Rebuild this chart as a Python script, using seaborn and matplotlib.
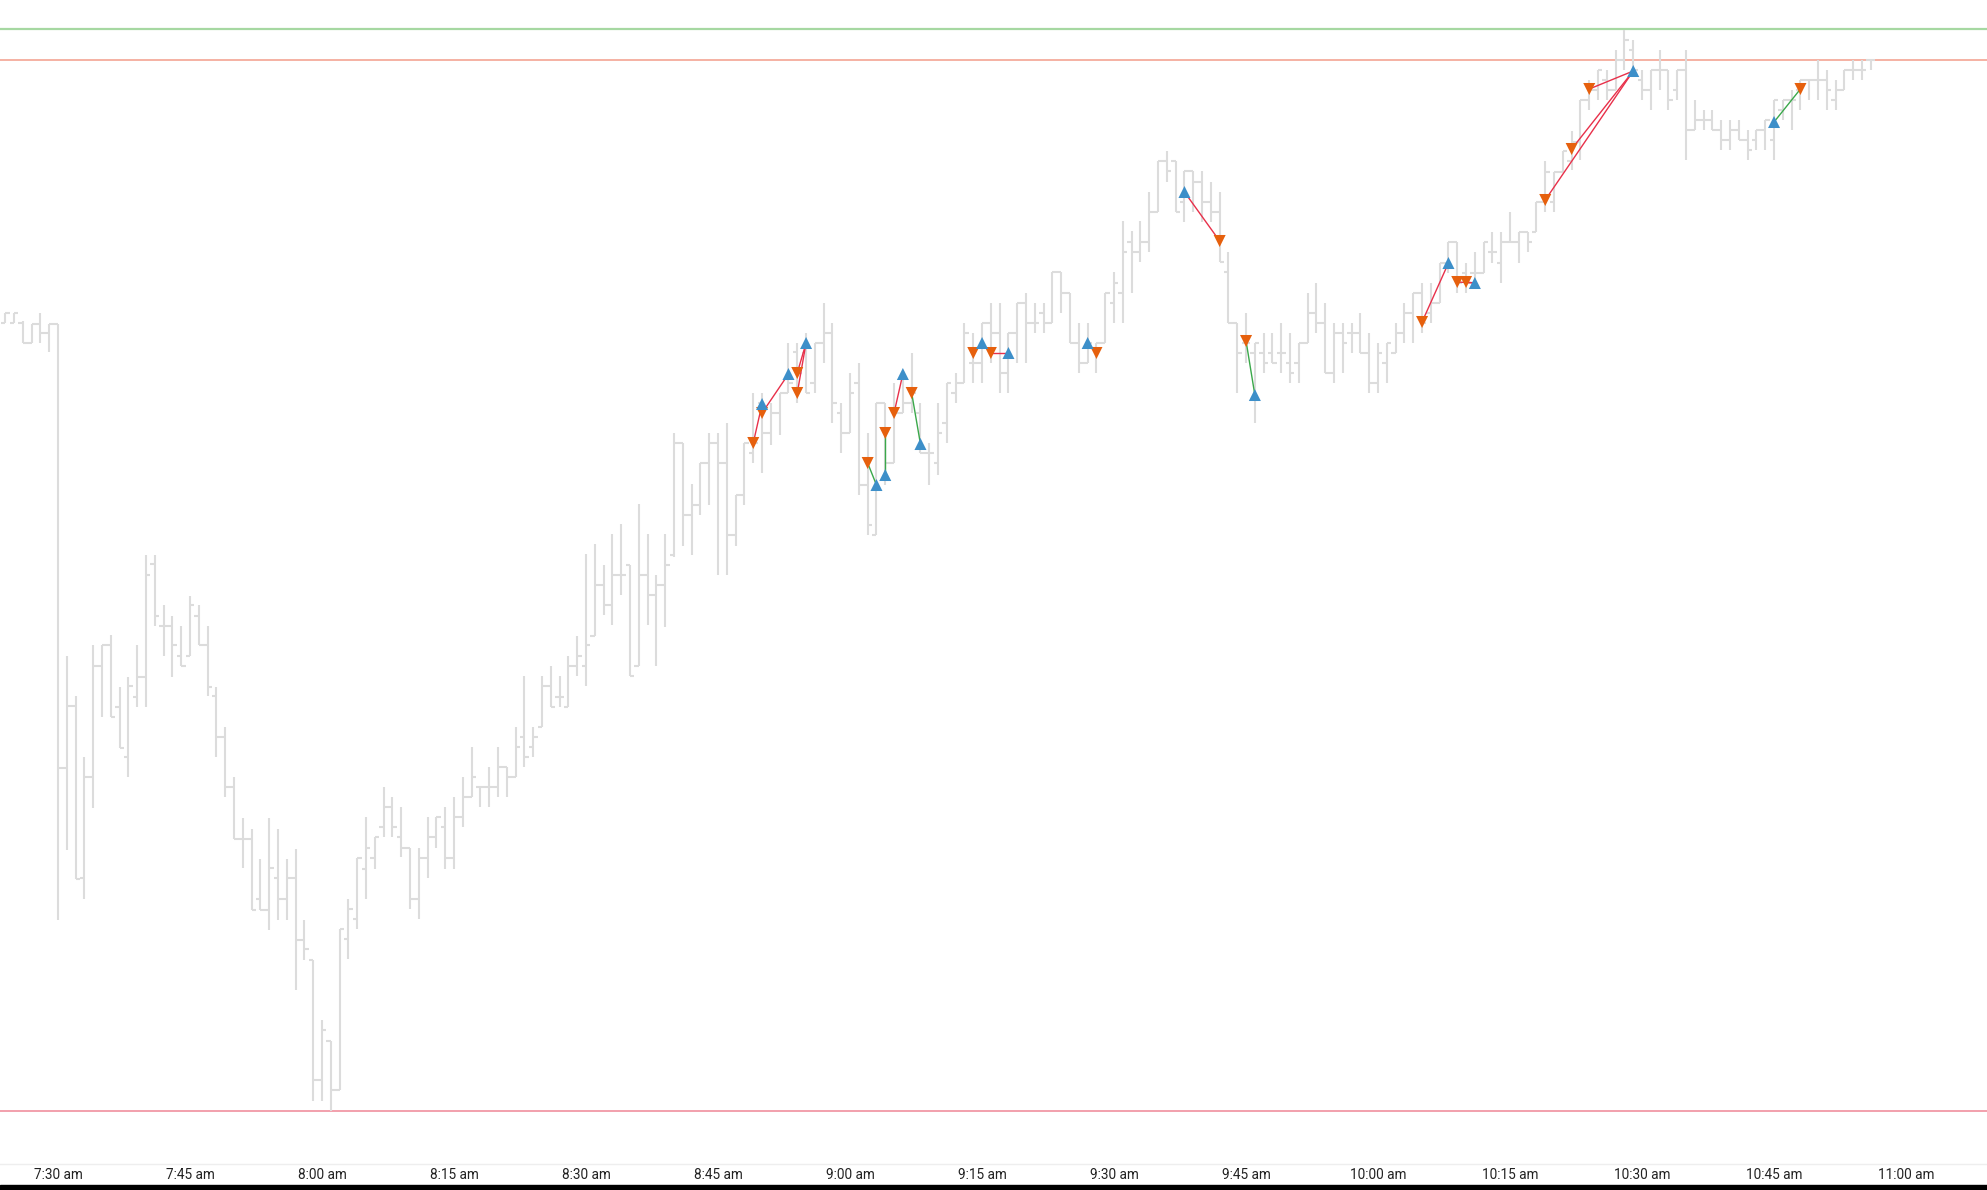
import numpy as np
import pandas as pd
import matplotlib
matplotlib.use("Agg")
import matplotlib.pyplot as plt
from matplotlib.patches import Rectangle
import seaborn as sns

sns.set_theme(style="white")
plt.rcParams['font.family'] = ['Roboto', 'DejaVu Sans']

# one-minute bars, first bar at 7:24 am
first_minute = 7 * 60 + 24

bar_open = [
    4478.7, 4478.7, 4478.7, 4476.7, 4478.6, 4477.7,
    4478.6, 4434.2, 4440.4, 4423.2, 4433.3, 4444.4, 4446.5, 4440.3, 4435.3, 4441.3,
    4443.3, 4454.6, 4448.4, 4448.4, 4445.4, 4445.4, 4449.4, 4446.5, 4441.4, 4437.3,
    4432.3, 4427.1, 4427.1, 4421.1, 4420.0, 4423.2, 4421.1, 4423.2, 4417.0, 4415.0,
    4403.0, 4406.9, 4402.0, 4417.1, 4419.1, 4424.1, 4425.2, 4428.3, 4430.3, 4427.3,
    4426.2, 4421.1, 4425.2, 4427.3, 4428.3, 4425.2, 4429.3, 4431.3, 4432.3, 4432.3,
    4432.3, 4434.3, 4433.3, 4437.3, 4436.3, 4438.3, 4442.4, 4441.3, 4440.3, 4444.4,
    4444.4, 4447.4, 4452.5, 4450.5, 4453.5, 4454.5, 4444.4, 4453.5, 4451.5, 4452.5,
    4455.5, 4466.7, 4459.5, 4460.5, 4464.7, 4466.7, 4464.7, 4457.5, 4461.5, 4465.7,
    4470.7, 4467.7, 4469.7, 4471.7, 4475.8, 4475.7, 4472.7, 4476.7, 4477.7, 4469.7,
    4467.7, 4472.7, 4462.5, 4457.5, 4470.7, 4464.7, 4469.7, 4470.7, 4469.7, 4465.7,
    4464.7, 4468.7, 4471.7, 4472.7, 4474.7, 4474.7, 4478.7, 4477.7, 4473.7, 4477.7,
    4480.7, 4478.7, 4479.7, 4478.7, 4483.8, 4481.7, 4476.7, 4474.7, 4476.2, 4476.7,
    4480.7, 4481.7, 4486.8, 4485.8, 4486.8, 4489.8, 4494.9, 4494.9, 4490.8, 4493.9,
    4492.8, 4490.8, 4489.8, 4483.8, 4478.7, 4476.7, 4475.7, 4475.7, 4475.7, 4475.7,
    4474.7, 4474.7, 4476.7, 4479.7, 4478.7, 4473.7, 4477.7, 4477.7, 4477.7, 4475.7,
    4472.7, 4474.7, 4475.7, 4477.7, 4479.7, 4481.7, 4479.7, 4480.7, 4484.7, 4486.8,
    4483.7, 4483.7, 4483.7, 4485.8, 4484.7, 4486.8, 4486.8, 4487.8, 4487.8, 4490.8,
    4490.8, 4493.8, 4494.9, 4496.8, 4501.0, 4502.0, 4503.0, 4502.0, 4505.0, 4506.0,
    4503.0, 4502.0, 4504.0, 4504.0, 4502.0, 4504.0, 4498.0, 4499.0, 4499.0, 4498.0,
    4497.0, 4498.0, 4497.0, 4497.0, 4498.0, 4497.0, 4500.0, 4501.0, 4502.0, 4503.0,
    4503.0, 4503.0, 4501.0, 4502.0, 4504.0, 4504.0, 4505.0,
]
bar_high = [
    4479.7, 4479.7, 4478.9, 4478.6, 4479.7, 4478.6,
    4478.6, 4445.4, 4441.4, 4435.3, 4446.5, 4446.5, 4447.5, 4442.3, 4443.3, 4446.5,
    4455.5, 4455.5, 4450.5, 4449.4, 4448.4, 4451.4, 4450.5, 4448.4, 4442.3, 4438.3,
    4433.3, 4429.2, 4428.1, 4425.1, 4429.2, 4428.1, 4425.1, 4426.1, 4419.0, 4415.0,
    4409.0, 4406.9, 4418.1, 4421.1, 4425.2, 4429.3, 4427.3, 4432.3, 4431.3, 4430.3,
    4426.2, 4426.2, 4429.3, 4429.3, 4430.3, 4431.3, 4433.3, 4436.3, 4432.3, 4434.3,
    4436.3, 4434.3, 4438.3, 4443.4, 4438.3, 4443.4, 4444.4, 4443.4, 4445.4, 4447.4,
    4455.6, 4456.6, 4454.5, 4457.6, 4458.6, 4454.5, 4460.6, 4457.6, 4453.5, 4457.6,
    4467.7, 4466.7, 4462.6, 4464.7, 4467.7, 4467.7, 4468.7, 4461.5, 4466.7, 4471.7,
    4471.7, 4470.7, 4471.7, 4476.7, 4476.7, 4477.7, 4476.7, 4480.7, 4478.7, 4470.7,
    4473.7, 4474.7, 4467.7, 4470.7, 4470.7, 4472.7, 4473.7, 4475.7, 4470.7, 4466.7,
    4470.7, 4472.7, 4473.7, 4478.7, 4477.7, 4478.7, 4480.7, 4480.7, 4477.7, 4480.7,
    4481.7, 4480.7, 4480.7, 4483.8, 4483.8, 4481.7, 4478.7, 4478.7, 4476.7, 4481.7,
    4483.8, 4488.9, 4487.9, 4488.9, 4491.8, 4494.9, 4495.9, 4494.9, 4493.9, 4493.9,
    4493.9, 4492.8, 4491.8, 4485.8, 4478.7, 4479.7, 4476.7, 4477.7, 4477.7, 4478.7,
    4477.7, 4476.7, 4481.7, 4482.7, 4480.7, 4478.7, 4478.7, 4478.7, 4479.7, 4477.7,
    4476.7, 4476.7, 4478.7, 4480.7, 4481.7, 4482.7, 4482.7, 4484.7, 4486.8, 4486.8,
    4484.7, 4485.8, 4486.8, 4487.8, 4487.8, 4489.8, 4487.8, 4487.8, 4490.8, 4494.9,
    4493.8, 4495.9, 4497.9, 4501.0, 4503.0, 4504.0, 4504.0, 4506.0, 4508.0, 4507.0,
    4504.0, 4504.0, 4506.0, 4504.0, 4504.0, 4506.0, 4501.0, 4500.0, 4500.0, 4499.0,
    4499.0, 4499.0, 4498.0, 4498.0, 4499.0, 4501.0, 4501.0, 4502.0, 4503.0, 4503.0,
    4505.0, 4504.0, 4503.0, 4504.0, 4505.0, 4505.0, 4505.0,
]
bar_low = [
    4478.7, 4478.7, 4476.7, 4476.7, 4476.7, 4475.8,
    4419.0, 4426.0, 4423.1, 4421.1, 4430.2, 4439.3, 4439.3, 4436.2, 4433.3, 4440.3,
    4440.3, 4448.4, 4445.4, 4443.3, 4444.4, 4445.4, 4446.5, 4441.4, 4435.3, 4431.3,
    4427.1, 4424.2, 4420.0, 4420.0, 4418.0, 4419.0, 4419.0, 4412.0, 4415.0, 4400.9,
    4400.9, 4399.9, 4402.0, 4415.1, 4418.1, 4421.1, 4424.1, 4427.3, 4427.3, 4425.3,
    4420.1, 4419.1, 4423.2, 4426.2, 4424.1, 4424.1, 4428.3, 4431.3, 4430.3, 4430.3,
    4431.3, 4431.3, 4433.3, 4434.3, 4435.3, 4438.3, 4440.3, 4440.3, 4440.3, 4443.4,
    4442.4, 4447.4, 4449.5, 4448.5, 4451.5, 4443.4, 4444.4, 4448.5, 4444.4, 4448.3,
    4455.3, 4456.4, 4455.5, 4459.5, 4460.5, 4453.5, 4453.5, 4456.4, 4460.5, 4464.7,
    4463.7, 4466.5, 4467.5, 4471.7, 4470.7, 4471.7, 4471.7, 4474.7, 4468.7, 4465.7,
    4467.7, 4461.5, 4457.5, 4457.5, 4462.5, 4464.7, 4469.7, 4469.7, 4465.7, 4462.5,
    4463.5, 4466.7, 4470.7, 4472.7, 4472.7, 4472.7, 4474.7, 4471.7, 4471.7, 4474.7,
    4474.7, 4477.7, 4477.7, 4478.7, 4479.7, 4476.7, 4473.7, 4474.7, 4473.7, 4476.7,
    4478.7, 4478.7, 4481.7, 4484.8, 4485.8, 4489.8, 4492.8, 4489.8, 4488.8, 4489.8,
    4488.8, 4488.8, 4484.8, 4478.7, 4471.7, 4474.7, 4468.7, 4473.7, 4474.7, 4473.7,
    4472.7, 4472.7, 4476.7, 4477.7, 4473.7, 4472.7, 4473.7, 4475.7, 4475.7, 4471.7,
    4471.7, 4472.7, 4475.7, 4476.7, 4476.7, 4477.7, 4478.7, 4480.7, 4483.7, 4481.7,
    4481.7, 4482.7, 4483.7, 4484.7, 4482.7, 4486.8, 4484.7, 4485.8, 4487.8, 4489.8,
    4489.8, 4493.8, 4494.0, 4495.0, 4500.0, 4501.0, 4501.0, 4502.0, 4504.0, 4504.0,
    4501.0, 4500.0, 4502.0, 4500.0, 4501.0, 4495.0, 4498.0, 4498.0, 4498.0, 4496.0,
    4496.0, 4497.0, 4495.0, 4496.0, 4496.0, 4495.0, 4499.0, 4498.0, 4500.0, 4501.0,
    4501.0, 4500.0, 4500.0, 4502.0, 4503.0, 4503.0, 4504.0,
]
bar_close = [
    4479.7, 4479.7, 4476.7, 4478.6, 4477.7, 4478.6,
    4434.2, 4440.4, 4423.1, 4433.3, 4444.4, 4446.5, 4439.3, 4436.2, 4442.4, 4443.3,
    4453.5, 4449.4, 4448.4, 4446.5, 4444.4, 4450.5, 4446.5, 4442.3, 4437.3, 4432.3,
    4427.1, 4427.1, 4420.0, 4420.0, 4424.2, 4421.1, 4423.2, 4417.0, 4416.1, 4403.0,
    4408.0, 4402.0, 4418.1, 4420.1, 4425.2, 4426.2, 4427.3, 4430.3, 4428.3, 4426.2,
    4421.1, 4425.2, 4427.3, 4429.3, 4425.2, 4429.3, 4431.3, 4433.3, 4432.3, 4432.3,
    4434.3, 4433.3, 4436.3, 4435.3, 4437.3, 4442.4, 4440.3, 4441.3, 4444.4, 4445.4,
    4446.5, 4452.5, 4450.5, 4453.5, 4453.5, 4443.4, 4453.5, 4451.5, 4452.5, 4454.5,
    4466.7, 4459.5, 4460.5, 4464.7, 4466.7, 4464.7, 4457.5, 4461.5, 4466.7, 4466.7,
    4467.7, 4469.7, 4471.7, 4472.7, 4473.7, 4471.7, 4476.7, 4477.7, 4470.7, 4467.7,
    4471.7, 4462.5, 4458.5, 4470.7, 4464.7, 4469.7, 4470.7, 4471.7, 4465.7, 4465.7,
    4467.7, 4472.7, 4472.7, 4477.7, 4474.7, 4478.7, 4477.7, 4473.7, 4477.7, 4480.7,
    4478.7, 4478.7, 4478.7, 4483.8, 4481.7, 4476.7, 4474.7, 4476.7, 4476.7, 4481.7,
    4482.7, 4485.8, 4485.8, 4486.8, 4489.8, 4494.9, 4493.9, 4489.8, 4493.9, 4492.8,
    4490.8, 4489.8, 4484.8, 4478.7, 4475.7, 4476.7, 4476.7, 4474.7, 4474.7, 4475.7,
    4473.7, 4476.7, 4479.7, 4478.7, 4473.7, 4477.7, 4476.7, 4477.7, 4475.7, 4472.7,
    4475.7, 4476.7, 4477.7, 4479.7, 4481.7, 4478.7, 4480.7, 4484.7, 4486.8, 4482.7,
    4482.7, 4483.7, 4486.8, 4485.8, 4486.8, 4486.8, 4487.8, 4486.8, 4490.8, 4493.8,
    4493.8, 4495.9, 4496.8, 4501.0, 4502.0, 4504.0, 4502.0, 4505.0, 4507.0, 4504.0,
    4502.0, 4504.0, 4504.0, 4501.0, 4504.0, 4498.0, 4499.0, 4499.0, 4498.0, 4497.0,
    4498.0, 4497.0, 4496.0, 4498.0, 4499.0, 4501.0, 4501.0, 4501.0, 4503.0, 4503.0,
    4503.0, 4502.0, 4502.0, 4504.0, 4504.0, 4504.0, 4505.0,
]

# trades: bar offsets are minutes after 7:30 am
entry_bar = [79, 80, 84, 84, 92, 94, 95, 97, 104, 106, 117, 128, 135, 155, 159, 160, 169, 172, 174, 195]
entry_price = [4466.7, 4469.7, 4473.7, 4471.7, 4464.7, 4467.7, 4469.7, 4471.7, 4475.7, 4475.7,
               4476.7, 4491.8, 4476.9, 4478.8, 4482.8, 4482.8, 4491.0, 4496.1, 4502.1, 4498.8]
exit_bar = [80, 83, 85, 85, 93, 94, 96, 98, 105, 108, 118, 132, 136, 158, 161, 161, 179, 179, 179, 198]
exit_price = [4470.6, 4473.6, 4476.7, 4476.7, 4462.5, 4463.5, 4473.6, 4466.6, 4476.7, 4475.7,
              4475.7, 4486.9, 4471.5, 4484.7, 4482.7, 4482.7, 4503.9, 4503.9, 4503.9, 4502.1]
trade_side = ["short", "short", "short", "short", "short", "short", "short", "short", "short", "short",
              "long", "long", "short", "short", "short", "short", "short", "short", "short", "long"]
trade_win = [False, False, False, False, True, True, False, True, False, False,
             False, False, True, False, False, False, False, False, False, True]

# reference levels
level_high = 4508.05
level_mid = 4505.0
level_low = 4399.95

tick_minutes = list(range(450, 661, 15))
tick_labels = [f"{m // 60}:{m % 60:02d} am" for m in tick_minutes]

bars = pd.DataFrame({"open": bar_open, "high": bar_high, "low": bar_low, "close": bar_close})
bars["minute"] = first_minute + np.arange(len(bars))

trades = pd.DataFrame({"entry_bar": entry_bar, "entry_price": entry_price,
                       "exit_bar": exit_bar, "exit_price": exit_price,
                       "side": trade_side, "win": trade_win})
trades["entry_min"] = 450 + trades["entry_bar"]
trades["exit_min"] = 450 + trades["exit_bar"]

# marker table: sells are orange down triangles, buys blue up triangles
sell_pts = pd.concat([
    trades.loc[trades.side == "short", ["entry_min", "entry_price"]].set_axis(["minute", "price"], axis=1),
    trades.loc[trades.side == "long", ["exit_min", "exit_price"]].set_axis(["minute", "price"], axis=1),
])
buy_pts = pd.concat([
    trades.loc[trades.side == "short", ["exit_min", "exit_price"]].set_axis(["minute", "price"], axis=1),
    trades.loc[trades.side == "long", ["entry_min", "entry_price"]].set_axis(["minute", "price"], axis=1),
])
sell_pts["kind"] = "sell"
buy_pts["kind"] = "buy"
marks = pd.concat([sell_pts, buy_pts]).drop_duplicates()

W, H = 1987, 1190
fig = plt.figure(figsize=(W / 100, H / 100), dpi=100)
ax = fig.add_axes([0, 26 / H, 1, 1164 / H])

ax.axhline(level_high, color="#a6d8a2", lw=1.6, zorder=1)
ax.axhline(level_mid, color="#f4a494", lw=1.2, zorder=1)
ax.axhline(level_low, color="#f2a0ac", lw=1.4, zorder=1)

bar_col = "#dcdcdc"
ax.vlines(bars["minute"], bars["low"], bars["high"], color=bar_col, lw=1.5, zorder=2)
ax.hlines(bars["open"], bars["minute"] - 0.5, bars["minute"], color=bar_col, lw=1.5, zorder=2)
ax.hlines(bars["close"], bars["minute"], bars["minute"] + 0.5, color=bar_col, lw=1.5, zorder=2)

for _, t in trades.iterrows():
    ax.plot([t.entry_min, t.exit_min], [t.entry_price, t.exit_price],
            color="#3aa84a" if t.win else "#e8304a", lw=1.0, zorder=3)

sns.scatterplot(data=marks, x="minute", y="price", hue="kind", style="kind",
                palette={"sell": "#e6600d", "buy": "#3d8fc9"},
                markers={"sell": "v", "buy": "^"}, s=75, linewidth=0,
                legend=False, ax=ax, zorder=4)

ax.set_xlim(443.4, 669.2)
ax.set_ylim(4394.6, 4511.0)
ax.set_xticks(tick_minutes)
ax.set_xticklabels(tick_labels)
ax.set_yticks([])
ax.set_xlabel("")
ax.set_ylabel("")
ax.tick_params(axis="x", length=0, pad=3, labelsize=9.8, labelcolor="#222222")
for side in ["top", "left", "right"]:
    ax.spines[side].set_visible(False)
ax.spines["bottom"].set_color("#eeeeee")
ax.spines["bottom"].set_linewidth(1.0)

fig.add_artist(Rectangle((0, 0), 1, 5 / H, transform=fig.transFigure,
                         color="black", zorder=10))

fig.savefig("out.png", dpi=100, facecolor="white")
